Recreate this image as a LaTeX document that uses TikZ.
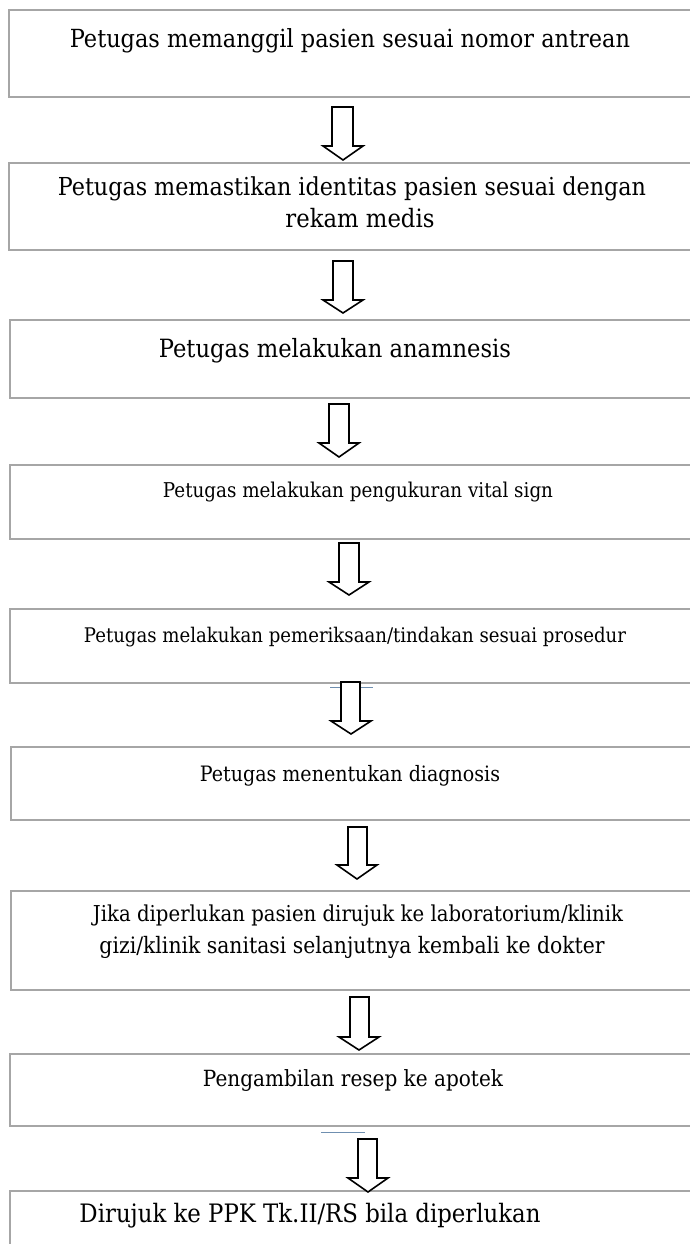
\documentclass[tikz,border=0pt]{standalone}
\usepackage{fontspec}
\setmainfont{DejaVu Serif Condensed}
\usepackage{graphicx}
\definecolor{boxgray}{HTML}{A6A6A6}
\definecolor{marklin}{HTML}{6F8FB0}
\tikzset{
  flowbox/.style={draw=boxgray, line width=2.2pt, anchor=north west, inner sep=0pt, outer sep=0pt, minimum width=700pt},
  flowtext/.style={inner sep=0pt, anchor=base, font=\fontsize{20}{24}\selectfont},
  blockarr/.style={draw=black, fill=white, line width=1.6pt, line join=miter},
  tickline/.style={draw=marklin, line width=0.9pt}
}
\newcommand\fitw[2]{\resizebox{#1pt}{!}{#2}}
% name, shaftL, shaftR, headL, headR, top, shaftbottom, tip
\newcommand\flowarrow[8]{%
  \coordinate (#1) at ({(#4+#5)/2},#8);
  \draw[blockarr] (#2,#6) -- (#3,#6) -- (#3,#7) -- (#5,#7) -- ({(#4+#5)/2},#8) -- (#4,#7) -- (#2,#7) -- cycle;}
\begin{document}
\begin{tikzpicture}[x=1pt,y=-1pt]
\useasboundingbox (0,0) rectangle (690,1244);
\clip (0,0) rectangle (690,1244);
\fill[white] (0,0) rectangle (690,1244);
% boxes
\node[flowbox, minimum height=87pt] (b1) at (9,10) {};
\node[flowbox, minimum height=87pt] (b2) at (9,163) {};
\node[flowbox, minimum height=78pt] (b3) at (10,320) {};
\node[flowbox, minimum height=74pt] (b4) at (10,465) {};
\node[flowbox, minimum height=74pt] (b5) at (10,609) {};
\node[flowbox, minimum height=73pt] (b6) at (11,747) {};
\node[flowbox, minimum height=99pt] (b7) at (11,891) {};
\node[flowbox, minimum height=72pt] (b8) at (10,1054) {};
\node[flowbox, minimum height=120pt] (b9) at (10,1191) {};
% texts
\node[flowtext] (t1) at (350,48) {\fitw{560}{Petugas memanggil pasien sesuai nomor antrean}};
\node[flowtext] (t2a) at (352,195) {\fitw{588}{Petugas memastikan identitas pasien sesuai dengan}};
\node[flowtext] (t2b) at (360,227) {\fitw{149}{rekam medis}};
\node[flowtext] (t3) at (335,357) {\fitw{352}{Petugas melakukan anamnesis}};
\node[flowtext] (t4) at (358,497) {\fitw{390}{Petugas melakukan pengukuran vital sign}};
\node[flowtext] (t5) at (355,642) {\fitw{542}{Petugas melakukan pemeriksaan/tindakan sesuai prosedur}};
\node[flowtext] (t6) at (350,781) {\fitw{300}{Petugas menentukan diagnosis}};
\node[flowtext] (t7a) at (358,921) {\fitw{530}{Jika diperlukan pasien dirujuk ke laboratorium/klinik}};
\node[flowtext] (t7b) at (352,953) {\fitw{505}{gizi/klinik sanitasi selanjutnya kembali ke dokter}};
\node[flowtext] (t8) at (353,1086) {\fitw{300}{Pengambilan resep ke apotek}};
\node[flowtext] (t9) at (310,1222) {\fitw{461}{Dirujuk ke PPK Tk.II/RS bila diperlukan}};
% small marks
\coordinate (m1a) at (330,687); \coordinate (m1b) at (373,687);
\draw[tickline] (m1a) -- (m1b);
\coordinate (m2a) at (321,1132); \coordinate (m2b) at (365,1132);
\draw[tickline] (m2a) -- (m2b);
% arrows
\flowarrow{a1}{332}{353}{323}{363}{107}{146}{160}
\flowarrow{a2}{333}{353}{323}{363}{261}{300}{313}
\flowarrow{a3}{329}{349}{319}{359}{404}{443}{457}
\flowarrow{a4}{339}{359}{329}{369}{543}{582}{595}
\flowarrow{a5}{341}{360}{331}{371}{682}{721}{734}
\flowarrow{a6}{348}{367}{337}{377}{827}{865}{879}
\flowarrow{a7}{350}{369}{339}{379}{997}{1037}{1050}
\flowarrow{a8}{358}{377}{348}{388}{1139}{1178}{1192}
\end{tikzpicture}
\end{document}
